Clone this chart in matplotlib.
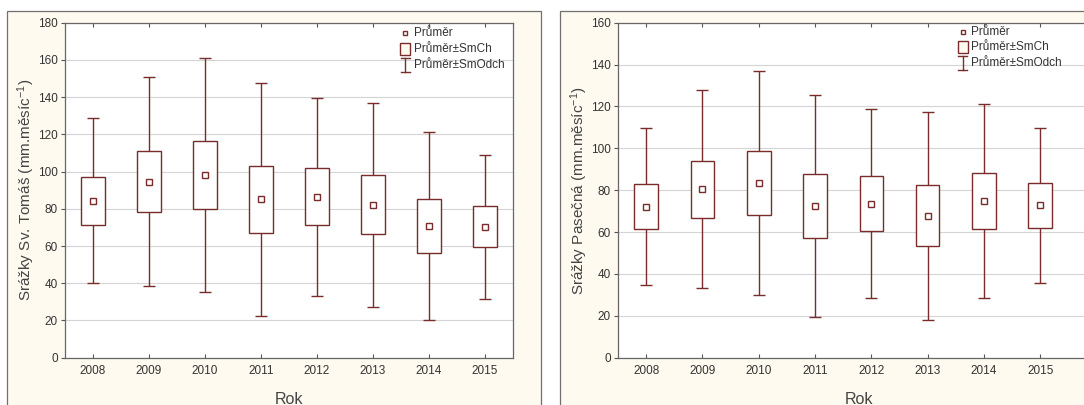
import matplotlib
matplotlib.use("Agg")
import matplotlib.pyplot as plt
from matplotlib.patches import Rectangle
from matplotlib.lines import Line2D
import numpy as np

plt.rcParams['font.family'] = ['Liberation Sans', 'DejaVu Sans']
plt.rcParams['mathtext.fontset'] = 'custom'
plt.rcParams['mathtext.rm'] = 'Liberation Sans'
plt.rcParams['mathtext.it'] = 'Liberation Sans'

years = ['2008', '2009', '2010', '2011', '2012', '2013', '2014', '2015']

tomas_mean = [84.3, 94.6, 98.2, 85.1, 86.4, 82.1, 70.6, 70.3]
tomas_se   = [12.8, 16.2, 18.2, 18.1, 15.3, 15.8, 14.6, 11.0]
tomas_sd   = [44.4, 56.0, 63.0, 62.5, 53.3, 54.8, 50.5, 38.8]

pasecna_mean = [72.1, 80.5, 83.6, 72.5, 73.6, 67.8, 74.8, 72.7]
pasecna_se   = [10.8, 13.6, 15.3, 15.3, 13.1, 14.5, 13.3, 10.8]
pasecna_sd   = [37.6, 47.4, 53.5, 53.2, 45.3, 49.7, 46.3, 36.9]

ylabels = ['Srážky Sv. Tomáš (mm.měsíc$^{-1}$)', 'Srážky Pasečná (mm.měsíc$^{-1}$)']
xlabel = 'Rok'
legend_labels = ['Průměr', 'Průměr±SmCh', 'Průměr±SmOdch']

LINE = '#7a2c2c'
CREAM = '#fffaf0'
W, H = 1084, 405

fig = plt.figure(figsize=(W / 100, H / 100), dpi=100)
fig.patch.set_facecolor('white')


def fx(px):
    return px / W


def fy(py):
    return (H - py) / H


# panel backgrounds
for (x0, x1) in [(7, 541), (560, 1120)]:
    fig.add_artist(Rectangle((fx(x0), fy(430)), fx(x1 - x0), (430 - 11) / H,
                             transform=fig.transFigure, facecolor=CREAM,
                             edgecolor='#707070', linewidth=0.9, zorder=-5))

panels = [
    dict(rect=(65, 513), ymax=180, xmax=7.5, mean=tomas_mean, se=tomas_se, sd=tomas_sd,
         ylabel=ylabels[0], leg_x=405, leg_rows=(33, 49, 65)),
    dict(rect=(618, 1100), ymax=160, xmax=7.5 + (1100 - 1068.4) / 56.3, mean=pasecna_mean,
         se=pasecna_se, sd=pasecna_sd, ylabel=ylabels[1], leg_x=962.5, leg_rows=(31.7, 47, 62.7)),
]

top, bot = 22.7, 357.7
for p in panels:
    l, r = p['rect']
    ax = fig.add_axes([fx(l), fy(bot), (r - l) / W, (bot - top) / H])
    ax.set_facecolor('white')
    x = np.arange(len(years))
    mean = np.array(p['mean'])
    se = np.array(p['se'])
    sd = np.array(p['sd'])
    bw = 0.42
    # whiskers
    ax.errorbar(x, mean, yerr=sd, fmt='none', ecolor=LINE, elinewidth=1.0,
                capsize=4.5, capthick=1.0, zorder=2)
    # boxes
    ax.bar(x, 2 * se, bottom=mean - se, width=bw, facecolor='white',
           edgecolor=LINE, linewidth=1.0, zorder=3)
    # means
    ax.plot(x, mean, 's', markersize=4.5, markerfacecolor='white',
            markeredgecolor=LINE, markeredgewidth=1.0, zorder=4, linestyle='none')

    ax.set_xlim(-0.5, p['xmax'])
    ax.set_ylim(0, p['ymax'])
    ax.set_yticks(np.arange(0, p['ymax'] + 1, 20))
    ax.set_xticks(x)
    ax.set_xticklabels(years)
    ax.yaxis.grid(True, color='#d4d4d4', linewidth=0.8)
    ax.set_axisbelow(True)
    ax.tick_params(axis='y', direction='out', length=3, width=0.8, color='#555555',
                   labelsize=8.5, labelcolor='#333333', pad=2)
    ax.tick_params(axis='x', direction='in', length=3, width=0.8, color='#555555',
                   labelsize=8.5, labelcolor='#333333', pad=5, top=True)
    for s in ax.spines.values():
        s.set_color('#666666')
        s.set_linewidth(0.9)
    ax.set_xlabel(xlabel, fontsize=11.5, color='#444444', labelpad=11)
    ax.set_ylabel(p['ylabel'], fontsize=11, color='#444444', labelpad=1)

    # legend drawn manually in figure pixel coordinates
    lx = p['leg_x']
    r1, r2, r3 = p['leg_rows']
    fig.add_artist(Line2D([fx(lx)], [fy(r1)], transform=fig.transFigure, marker='s',
                          markersize=3.5, markerfacecolor='white', markeredgecolor=LINE,
                          markeredgewidth=1.0, linestyle='none', zorder=10))
    fig.add_artist(Rectangle((fx(lx - 5), fy(r2 + 6)), fx(10), 12 / H,
                             transform=fig.transFigure, facecolor=CREAM,
                             edgecolor=LINE, linewidth=1.0, zorder=10))
    fig.add_artist(Line2D([fx(lx), fx(lx)], [fy(r3 - 7), fy(r3 + 7)],
                          transform=fig.transFigure, color=LINE, linewidth=1.0, zorder=10))
    for yy in (r3 - 7, r3 + 7):
        fig.add_artist(Line2D([fx(lx - 4.5), fx(lx + 4.5)], [fy(yy), fy(yy)],
                              transform=fig.transFigure, color=LINE, linewidth=1.0, zorder=10))
    for yy, txt in zip((r1, r2, r3), legend_labels):
        fig.text(fx(lx + 9), fy(yy), txt, fontsize=8.5, color='#333333',
                 va='center', ha='left', zorder=10)

fig.savefig('out.png', dpi=100)
